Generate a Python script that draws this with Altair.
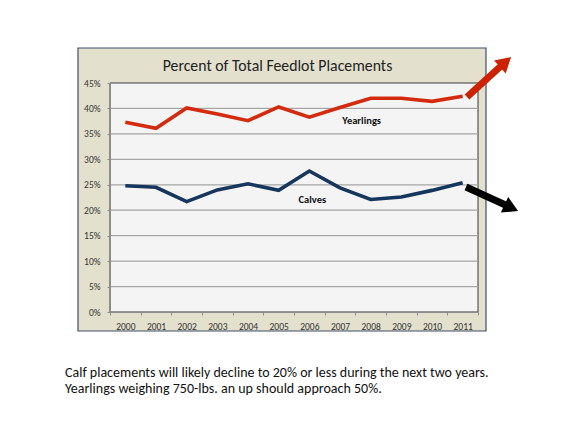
import altair as alt
import pandas as pd

years = ["2000", "2001", "2002", "2003", "2004", "2005", "2006", "2007", "2008", "2009", "2010", "2011"]
yearlings = [37.3, 36.1, 40.1, 38.9, 37.6, 40.3, 38.3, 40.2, 42.0, 42.0, 41.4, 42.4]
calves = [24.8, 24.5, 21.7, 24.0, 25.2, 23.9, 27.7, 24.4, 22.1, 22.6, 23.9, 25.4]
series_names = ["Yearlings", "Calves"]
series_colors = ["#D42A0E", "#17365D"]
grid_values = [5, 10, 15, 20, 25, 30, 35, 40]
tick_values = [0, 5, 10, 15, 20, 25, 30, 35, 40, 45]
title_text = "Percent of Total Feedlot Placements"
note_lines = [
    "Calf placements will likely decline to 20% or less during the next two years.",
    "Yearlings weighing 750-lbs. an up should approach 50%.",
]
FONT = "Carlito, Calibri, Lato, sans-serif"

W, H = 368, 229

rows = []
for i, y in enumerate(years):
    rows.append({"year": y, "series": "Yearlings", "pct": yearlings[i] / 100})
    rows.append({"year": y, "series": "Calves", "pct": calves[i] / 100})
df = pd.DataFrame(rows)

yscale = alt.Scale(domain=[0, 0.45], nice=False, zero=True)
xscale = alt.Scale(type="band", paddingInner=0, paddingOuter=0, domain=years)

y_axis = alt.Axis(values=[v / 100 for v in tick_values], format=".0%", grid=False,
                  labelFontSize=9.5, labelFont=FONT, labelColor="#333",
                  domainColor="#8C8C8C", tickColor="#8C8C8C", tickSize=3,
                  labelPadding=7, zindex=1, title=None)
x_axis = alt.Axis(labelAngle=0, labelFontSize=9.5, labelFont=FONT, labelColor="#333",
                  domainColor="#8C8C8C", tickColor="#8C8C8C", tickSize=3,
                  tickBand="extent", labelPadding=6, zindex=1, title=None)

one = alt.Data(values=[{"a": 1}])

beige = alt.Chart(one).mark_rect(fill="#E3E0CD", stroke="#3E4F6B", strokeWidth=1.2).encode(
    x=alt.value(-32), x2=alt.value(376), y=alt.value(-35), y2=alt.value(248)
)
plotbg = alt.Chart(one).mark_rect(fill="#F4F4F4", stroke="#3A3A3A", strokeWidth=1).encode(
    x=alt.value(0), x2=alt.value(W), y=alt.value(0), y2=alt.value(H)
)
grid = alt.Chart(pd.DataFrame({"pct": [g / 100 for g in grid_values]})).mark_rule(
    color="#A6A6A6", strokeWidth=1.2
).encode(y=alt.Y("pct:Q", scale=yscale, axis=y_axis))

lines = alt.Chart(df).mark_line(strokeWidth=3.6, strokeJoin="miter").encode(
    x=alt.X("year:O", scale=xscale, axis=x_axis),
    y=alt.Y("pct:Q", scale=yscale, axis=y_axis),
    color=alt.Color("series:N", scale=alt.Scale(domain=series_names, range=series_colors), legend=None),
)

labels_df = pd.DataFrame({"series": series_names, "year": ["2008", "2006"],
                          "pct": [0.375, 0.22], "dx": [-9, 3]})
label_layers = []
for i in range(2):
    label_layers.append(
        alt.Chart(labels_df.iloc[[i]]).mark_text(fontSize=10.5, fontWeight="bold", font=FONT,
                                                 color="#111", dx=int(labels_df["dx"][i])).encode(
            x=alt.X("year:O", scale=xscale, axis=x_axis),
            y=alt.Y("pct:Q", scale=yscale, axis=y_axis),
            text="series:N",
        )
    )

title = alt.Chart(pd.DataFrame({"t": [title_text]})).mark_text(
    fontSize=15.8, font=FONT, color="#222"
).encode(x=alt.value(167.5), y=alt.value(-17), text="t:N")

note1 = alt.Chart(pd.DataFrame({"t": [note_lines[0]]})).mark_text(
    fontSize=14, font=FONT, color="#111", align="left"
).encode(x=alt.value(-45), y=alt.value(290), text="t:N")
note2 = alt.Chart(pd.DataFrame({"t": [note_lines[1]]})).mark_text(
    fontSize=14, font=FONT, color="#111", align="left"
).encode(x=alt.value(-45), y=alt.value(306), text="t:N")

red_shaft = alt.Chart(one).mark_rule(color="#CC2200", strokeWidth=7, strokeCap="butt").encode(
    x=alt.value(357), y=alt.value(14), x2=alt.value(391), y2=alt.value(-17)
)
red_head = alt.Chart(one).mark_point(shape="triangle-up", angle=48, size=300, filled=True,
                                     color="#CC2200", opacity=1).encode(
    x=alt.value(395.5), y=alt.value(-21)
)
blk_shaft = alt.Chart(one).mark_rule(color="#000000", strokeWidth=7, strokeCap="butt").encode(
    x=alt.value(356), y=alt.value(104), x2=alt.value(395.5), y2=alt.value(122)
)
blk_head = alt.Chart(one).mark_point(shape="triangle-up", angle=115, size=300, filled=True,
                                     color="#000000", opacity=1).encode(
    x=alt.value(401.3), y=alt.value(124.9)
)

chart = alt.layer(beige, plotbg, grid, lines, *label_layers, title, note1, note2,
                  red_shaft, red_head, blk_shaft, blk_head).properties(
    width=W, height=H,
    padding={"left": 102, "top": 75, "right": 77, "bottom": 104},
    autosize=alt.AutoSizeParams(type="none"),
).configure_view(strokeWidth=0)

chart.save("out.html", embed_options={"renderer": "svg", "actions": False})
